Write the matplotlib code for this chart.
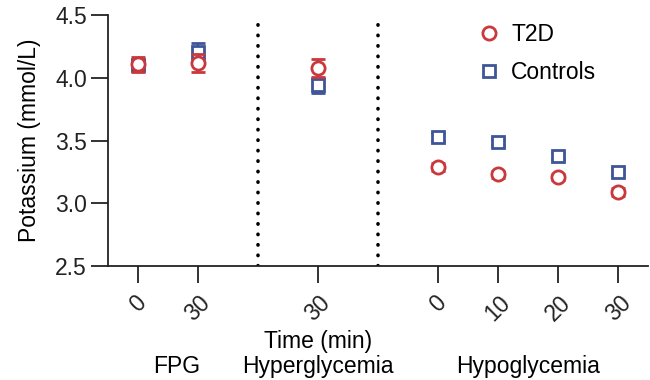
import matplotlib.pyplot as plt
from matplotlib.lines import Line2D

plt.rcParams['font.family'] = ['Liberation Sans', 'DejaVu Sans']

# x 위치 (구간 사이 빈칸 포함)
positions = [0, 1, 3, 5, 6, 7, 8]
tick_labels = ['0', '30', '30', '0', '10', '20', '30']

t2d_mean = [4.11, 4.12, 4.08, 3.29, 3.23, 3.21, 3.09]
t2d_err = [0.06, 0.07, 0.07, 0.03, 0.025, 0.025, 0.03]
ctrl_mean = [4.10, 4.21, 3.94, 3.53, 3.49, 3.38, 3.25]
ctrl_err = [0.04, 0.07, 0.06, 0.03, 0.025, 0.025, 0.025]

group_names = ['FPG', 'Hyperglycemia', 'Hypoglycemia']
group_x = [0.65, 3, 6.5]
separators = [2, 4]

red = '#c9383c'
blue = '#3e5597'
fs = 16.5

fig = plt.figure(figsize=(6.5, 3.8), dpi=100)
ax = fig.add_axes([0.166, 0.30, 0.831, 0.66])

ax.errorbar(positions, ctrl_mean, yerr=ctrl_err, fmt='s', mfc='white', mec=blue,
            ecolor=blue, mew=2, ms=9, capsize=5, elinewidth=1.5, capthick=1.5,
            zorder=3)
ax.errorbar(positions, t2d_mean, yerr=t2d_err, fmt='o', mfc='white', mec=red,
            ecolor=red, mew=2, ms=9.5, capsize=5, elinewidth=1.5, capthick=1.5,
            zorder=4)

for s in separators:
    ax.axvline(s, color='black', linestyle=(0, (0.1, 2.8)), lw=2.6,
               dash_capstyle='round', zorder=1)

ax.set_xlim(-0.5, 8.5)
ax.set_ylim(2.5, 4.5)
ax.set_yticks([2.5, 3.0, 3.5, 4.0, 4.5])
ax.set_xticks(positions)
ax.set_xticklabels(tick_labels, rotation=45, ha='center')
ax.tick_params(axis='both', labelsize=fs, length=12, width=1.3, colors='#222222')
ax.tick_params(axis='x', pad=6)
ax.tick_params(axis='y', pad=3)
ax.set_ylabel('Potassium (mmol/L)', fontsize=fs, labelpad=10)

for side in ['top', 'right']:
    ax.spines[side].set_visible(False)
for side in ['left', 'bottom']:
    ax.spines[side].set_linewidth(1.3)
    ax.spines[side].set_color('#222222')

ax.text(3, -0.30, 'Time (min)', transform=ax.get_xaxis_transform(),
        ha='center', va='center', fontsize=fs)
for name, gx in zip(group_names, group_x):
    ax.text(gx, -0.40, name, transform=ax.get_xaxis_transform(),
            ha='center', va='center', fontsize=fs)

handles = [
    Line2D([], [], ls='none', marker='o', mfc='white', mec=red, mew=2, ms=9.5),
    Line2D([], [], ls='none', marker='s', mfc='white', mec=blue, mew=2, ms=9),
]
ax.legend(handles, ['T2D', 'Controls'], loc='upper left', frameon=False,
          fontsize=fs, bbox_to_anchor=(0.636, 1.05), labelspacing=0.65,
          handletextpad=0.2, handlelength=1.5)

fig.savefig('out.png', dpi=100)
